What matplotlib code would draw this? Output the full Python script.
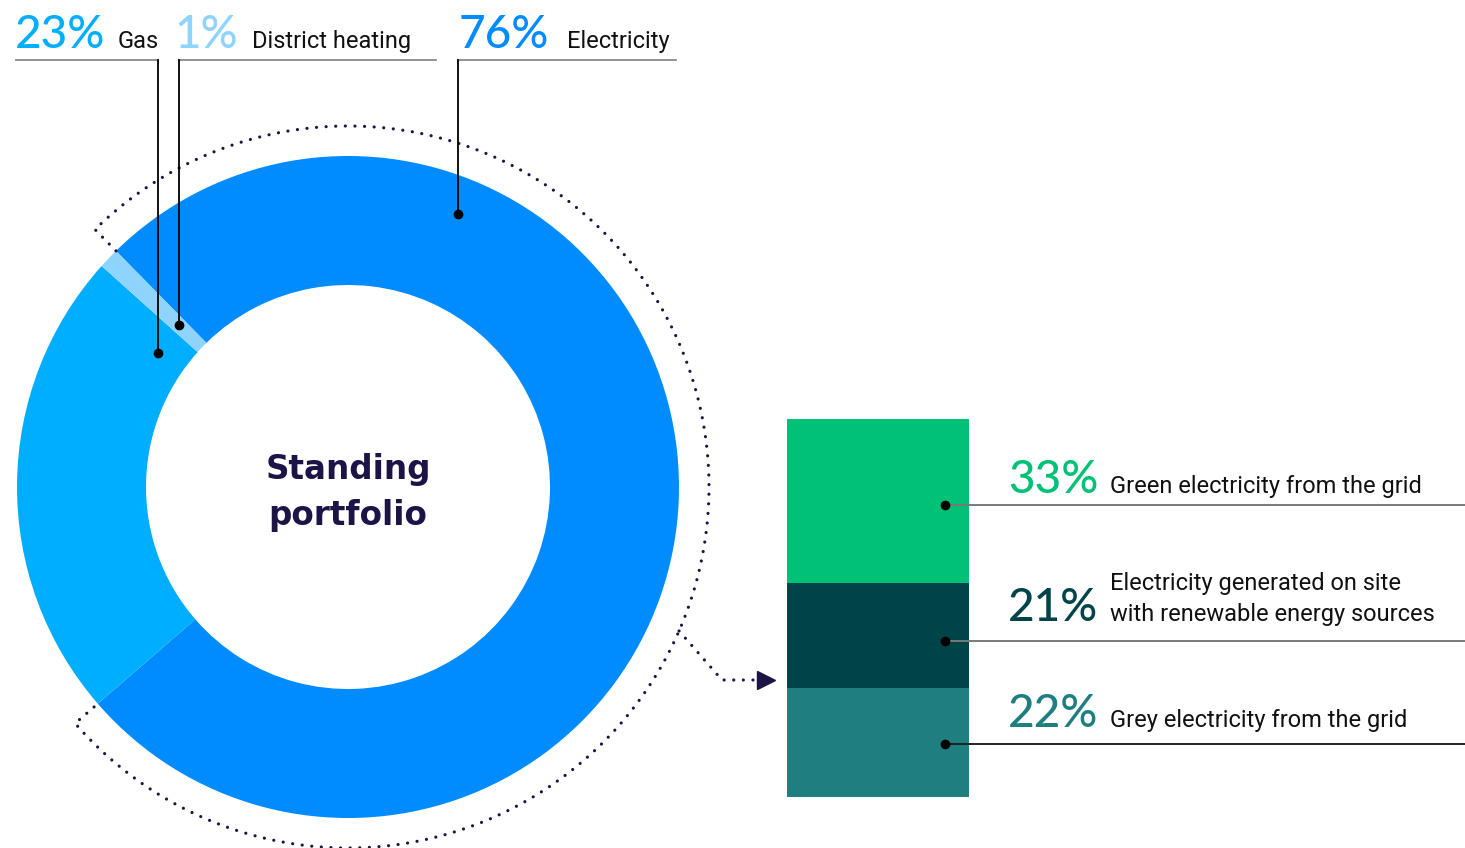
import numpy as np
import matplotlib
matplotlib.use("Agg")
import matplotlib.pyplot as plt

# ---------------- data ----------------
energy_labels = ["Electricity", "Gas", "District heating"]
energy_values = [76, 23, 1]
energy_colors = ["#008CFF", "#00AEFF", "#8FD3FF"]

elec_labels = ["Grey electricity from the grid",
               "Electricity generated on site\nwith renewable energy sources",
               "Green electricity from the grid"]
elec_values = [22, 21, 33]
elec_colors = ["#1F7F80", "#00444A", "#00C176"]

center_title = "Standing\nportfolio"

# ---------------- figure ----------------
W, H = 1465, 848
fig = plt.figure(figsize=(W / 100, H / 100), dpi=100)
ax = fig.add_axes([0, 0, 1, 1])

def Y(py):
    return H - py

NAVY = "#1C1446"
LABEL_FONT = ["Roboto", "DejaVu Sans"]
LABEL_SIZE = 17
PCT_FONT = ["Lato", "DejaVu Sans"]
TXT = "#111111"

cx, cy = 348, Y(487)
R_OUT, R_IN = 331, 202
START = 134.5

ax.pie(energy_values, colors=energy_colors, startangle=START, counterclock=False,
       radius=R_OUT, center=(cx, cy),
       wedgeprops=dict(width=R_OUT - R_IN, linewidth=0))

ax.text(cx, Y(493), center_title, ha="center", va="center", fontsize=23.5,
        fontweight="bold", color=NAVY, family=["DejaVu Sans"], linespacing=1.5)

# dotted bracket around electricity
R_ARC = 361
elec_span = energy_values[0] / sum(energy_values) * 360
a_start = START              # start of electricity (ccw end)
a_end = START - elec_span    # end of electricity
dot_style = dict(color=NAVY, lw=2.3, linestyle=(0, (0.01, 3.0)), dash_capstyle="round")
theta = np.deg2rad(np.linspace(a_start, a_end, 600))
arc_x = np.concatenate([[cx + R_OUT * np.cos(theta[0])], cx + R_ARC * np.cos(theta),
                        [cx + R_OUT * np.cos(theta[-1])]])
arc_y = np.concatenate([[cy + R_OUT * np.sin(theta[0])], cy + R_ARC * np.sin(theta),
                        [cy + R_OUT * np.sin(theta[-1])]])
ax.plot(arc_x, arc_y, **dot_style)

# arrow to the bar
t = np.deg2rad(-23.5)
p0 = (cx + R_ARC * np.cos(t), cy + R_ARC * np.sin(t))
ax.plot([p0[0], 722, 762], [p0[1], Y(680), Y(680)], **dot_style)
ax.plot([766], [Y(680)], marker=">", markersize=13, color=NAVY, linestyle="none")

# ---------------- top labels ----------------
def pct_label(x, yb, pct, color):
    ax.text(x, Y(yb), f"{pct}%", fontsize=33, color=color, family=PCT_FONT,
            fontweight="medium", ha="left", va="baseline")

def name_label(x, yb, s):
    ax.text(x, Y(yb), s, fontsize=LABEL_SIZE, family=LABEL_FONT, color=TXT,
            ha="left", va="baseline")

LINE_Y = Y(60)
GREY = "#8A8A8A"
# Gas
pct_label(15, 48, energy_values[1], energy_colors[1])
name_label(118, 48, energy_labels[1])
ax.plot([16, 158], [LINE_Y, LINE_Y], color=GREY, lw=1.3)
ax.plot([158, 158], [LINE_Y, Y(353)], color="black", lw=1.3)
ax.plot([158], [Y(353)], "o", color="black", markersize=6)
# District heating
pct_label(174, 48, energy_values[2], energy_colors[2])
name_label(252, 48, energy_labels[2])
ax.plot([179, 436], [LINE_Y, LINE_Y], color=GREY, lw=1.3)
ax.plot([179, 179], [LINE_Y, Y(325)], color="black", lw=1.3)
ax.plot([179], [Y(325)], "o", color="black", markersize=6)
# Electricity
pct_label(459, 48, energy_values[0], energy_colors[0])
name_label(567, 48, energy_labels[0])
ax.plot([458, 676], [LINE_Y, LINE_Y], color=GREY, lw=1.3)
ax.plot([458, 458], [LINE_Y, Y(214)], color="black", lw=1.3)
ax.plot([458], [Y(214)], "o", color="black", markersize=6)

# ---------------- stacked bar ----------------
SCALE = 378 / sum(elec_values)   # pixels per percent
bottom = Y(797)
bar_x, bar_w = 878, 182
for v, c in zip(elec_values, elec_colors):
    ax.bar(bar_x, v * SCALE, width=bar_w, bottom=bottom, color=c, linewidth=0)
    bottom += v * SCALE

label_lines_y = [744, 641, 505]
pct_baselines = [727, 621, 493]
text_baselines = [727, None, 493]
line_colors = ["#222222", "#7A7A7A", "#7A7A7A"]
for i in range(3):
    ly = Y(label_lines_y[i])
    ax.plot([945, W], [ly, ly], color=line_colors[i], lw=1.4)
    ax.plot([945], [ly], "o", color="black", markersize=6)
    pct_label(1008, pct_baselines[i], elec_values[i], elec_colors[i])
    if text_baselines[i] is not None:
        name_label(1110, text_baselines[i], elec_labels[i])
    else:
        l1, l2 = elec_labels[i].split("\n")
        name_label(1110, 590, l1)
        name_label(1110, 621, l2)

ax.set_xlim(0, W)
ax.set_ylim(0, H)
ax.set_aspect("auto")
ax.axis("off")
fig.savefig("out.png", dpi=100)
